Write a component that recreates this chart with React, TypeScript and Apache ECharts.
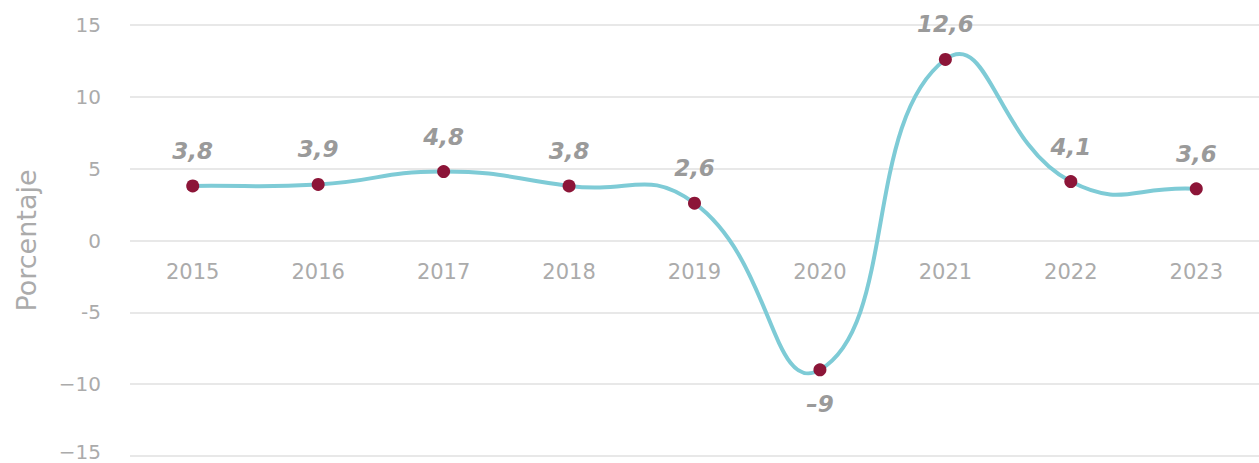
import React, { useEffect, useRef } from "react";
import * as echarts from "echarts";

const years = ["2015", "2016", "2017", "2018", "2019", "2020", "2021", "2022", "2023"];
const growth = [3.8, 3.9, 4.8, 3.8, 2.6, -9, 12.6, 4.1, 3.6];
const yTicks = [-15, -10, -5, 0, 5, 10, 15];
const yTickLabels = ["−15", "−10", "-5", "0", "5", "10", "15"];

const SMOOTH = 0.5;

// Smooth curve through the points (tangent from neighbours, scaled by segment lengths, no clamping)
function splinePath(pts: number[][]): string {
  const n = pts.length;
  const cpIn: number[][] = [];
  const cpOut: number[][] = [];
  for (let i = 0; i < n; i++) {
    const p = pts[i];
    const prev = pts[Math.max(0, i - 1)];
    const next = pts[Math.min(n - 1, i + 1)];
    const vx = next[0] - prev[0];
    const vy = next[1] - prev[1];
    const d0 = Math.hypot(p[0] - prev[0], p[1] - prev[1]);
    const d1 = Math.hypot(next[0] - p[0], next[1] - p[1]);
    const tot = d0 + d1 || 1;
    cpIn[i] = [p[0] - vx * SMOOTH * (d0 / tot), p[1] - vy * SMOOTH * (d0 / tot)];
    cpOut[i] = [p[0] + vx * SMOOTH * (d1 / tot), p[1] + vy * SMOOTH * (d1 / tot)];
  }
  let d = `M${pts[0][0]},${pts[0][1]}`;
  for (let i = 0; i < n - 1; i++) {
    const a = cpOut[i];
    const b = cpIn[i + 1];
    const e = pts[i + 1];
    d += ` C${a[0]},${a[1]} ${b[0]},${b[1]} ${e[0]},${e[1]}`;
  }
  return d;
}

export default function App() {
  const ref = useRef<HTMLDivElement>(null);
  useEffect(() => {
    if (!ref.current) return;
    const chart = echarts.init(ref.current, undefined, { renderer: "svg" });
    const font = "'DejaVu Sans', sans-serif";
    const gray = "#ababab";
    chart.setOption({
      animation: false,
      backgroundColor: "#ffffff",
      grid: { left: 130, right: 0, top: 25, bottom: 7, outerBoundsMode: "none", containLabel: false },
      xAxis: {
        type: "category",
        data: years,
        boundaryGap: true,
        offset: -(463 - 25 - 7) / 2,
        axisLine: { show: false, onZero: false },
        axisTick: { show: false },
        axisLabel: { color: gray, fontSize: 21, fontFamily: font, margin: 21 },
        splitLine: { show: false },
      },
      yAxis: {
        type: "value",
        min: -15,
        max: 15,
        interval: 5,
        name: "Porcentaje",
        nameLocation: "middle",
        nameGap: 90,
        nameTextStyle: { color: gray, fontSize: 27, fontFamily: font },
        axisLine: { show: false },
        axisTick: { show: false },
        axisLabel: {
          color: gray,
          fontSize: 20,
          fontFamily: font,
          margin: 29,
          formatter: (v: number) => {
            const i = yTicks.indexOf(v);
            const t = i >= 0 ? yTickLabels[i] : String(v);
            return v === -15 ? `{up|${t}}` : t;
          },
          rich: {
            up: { color: gray, fontSize: 20, fontFamily: font, padding: [0, 0, 9, 0] },
          },
        },
        splitLine: { show: true, lineStyle: { color: "#e0e0e0", width: 1.5 } },
      },
      series: [
        {
          type: "custom",
          data: [0],
          z: 1,
          silent: true,
          renderItem: (params: any, api: any) => {
            const pts = growth.map((v, i) => api.coord([i, v]));
            return {
              type: "path",
              shape: { pathData: splinePath(pts) },
              style: { stroke: "#7ecbd6", lineWidth: 4, fill: "none" },
            };
          },
        },
        {
          type: "line",
          z: 3,
          data: growth.map((v) =>
            v < 0 ? { value: v, label: { position: "bottom", distance: 16 } } : v
          ),
          symbol: "circle",
          symbolSize: 13,
          itemStyle: { color: "#8c1538" },
          lineStyle: { opacity: 0, width: 0 },
          label: {
            show: true,
            position: "top",
            distance: 17,
            color: "#9a9a9a",
            fontSize: 23,
            fontStyle: "italic",
            fontWeight: "bold",
            fontFamily: font,
            formatter: (p: any) => {
              const v = p.value as number;
              const s = String(Math.abs(v)).replace(".", ",");
              return v < 0 ? "–" + s : s;
            },
          },
        },
      ],
    });
    return () => chart.dispose();
  }, []);
  return (
    <div
      ref={ref}
      style={{ position: "fixed", left: 0, top: 0, width: 1259, height: 463 }}
    />
  );
}
